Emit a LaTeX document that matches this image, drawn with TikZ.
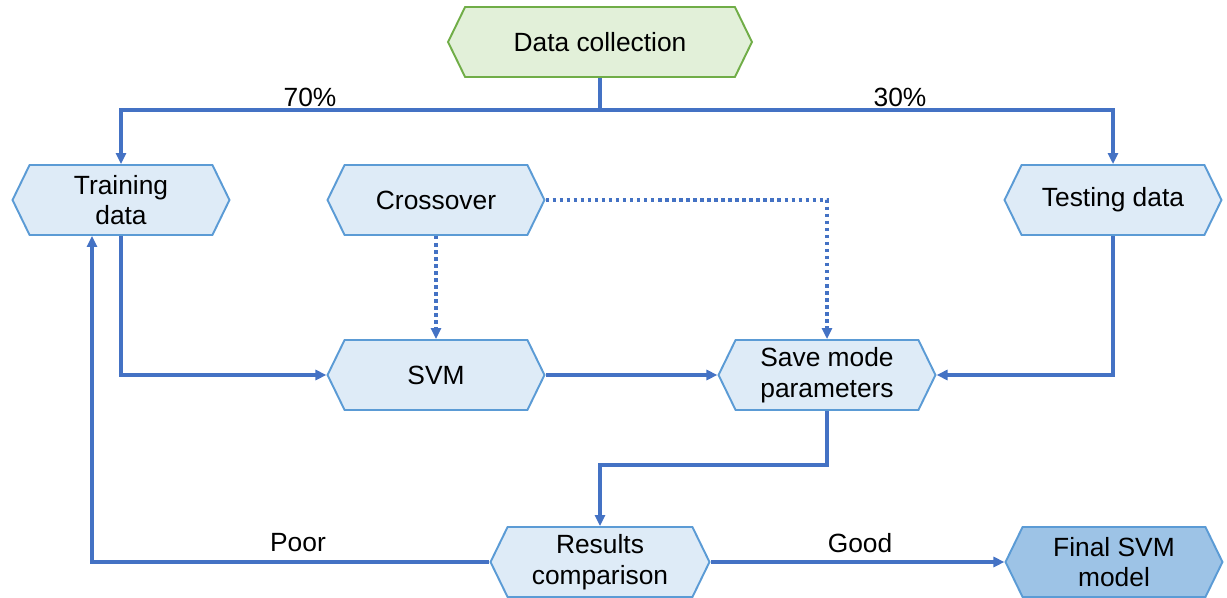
\documentclass[tikz,border=0pt]{standalone}
\usepackage{fontspec}
\setmainfont{Liberation Sans}
\usetikzlibrary{shapes.symbols,arrows.meta}
\definecolor{boxfill}{HTML}{DEEBF7}
\definecolor{boxline}{HTML}{5B9BD5}
\definecolor{startfill}{HTML}{E2F0D9}
\definecolor{startline}{HTML}{70AD47}
\definecolor{endfill}{HTML}{9DC3E6}
\definecolor{flow}{HTML}{4472C4}
\tikzset{>={Triangle[length=0.22cm,width=0.2cm]}}
\tikzset{hexbox/.style={signal, signal to=east and west, signal pointer angle=128,
    draw=boxline, fill=boxfill, line width=1.1pt, minimum width=4.34cm,
    minimum height=1.4cm, inner sep=0pt, align=center,
    font=\fontsize{15}{17.5}\selectfont}}
\tikzset{flowline/.style={draw=flow, line width=2pt}}
\tikzset{dotline/.style={flowline, dash pattern=on 2pt off 2pt}}
\tikzset{lbl/.style={font=\fontsize{15}{17.5}\selectfont}}

\begin{document}
\begin{tikzpicture}[x=0.02cm, y=-0.02cm]
\useasboundingbox (0,0) rectangle (1227,598);

  \node[hexbox, draw=startline, fill=startfill, minimum width=6.08cm] (data) at (600,42) {Data collection};
  \node[hexbox] (train) at (121,200) {Training\\data};
  \node[hexbox] (cross) at (436,200) {Crossover};
  \node[hexbox] (test) at (1113,200) {Testing data};
  \node[hexbox] (svm) at (436,375) {SVM};
  \node[hexbox] (save) at (827,375) {Save mode\\parameters};
  \node[hexbox, minimum width=4.38cm] (result) at (600,562) {Results\\comparison};
  \node[hexbox, fill=endfill] (final) at (1114,562) {Final SVM\\model};

  \coordinate (split) at (600,110);
  \coordinate (bend) at (600,465);
  \coordinate (back) at (92,562);

  \node[lbl] (pct70) at (310,97) {70\%};
  \node[lbl] (pct30) at (900,97) {30\%};
  \node[lbl] (poor) at (298,543) {Poor};
  \node[lbl] (good) at (860,543) {Good};

  \draw[flowline] (data.south) -- (split);
  \draw[flowline,->] (split) -| (train.north);
  \draw[flowline,->] (split) -| (test.north);
  \draw[flowline,->] (train.south) |- (svm.west);
  \draw[flowline,->] (svm.east) -- (save.west);
  \draw[flowline,->] (test.south) |- (save.east);
  \draw[flowline,->] (save.south) |- (bend) -- (result.north);
  \draw[flowline,->] (result.east) -- (final.west);
  \draw[flowline,->] (result.west) -- (back) -- (back |- train.south);

  \draw[dotline,->] (cross.south) -- (svm.north);
  \draw[dotline,->] (cross.east) -| (save.north);

\end{tikzpicture}
\end{document}
